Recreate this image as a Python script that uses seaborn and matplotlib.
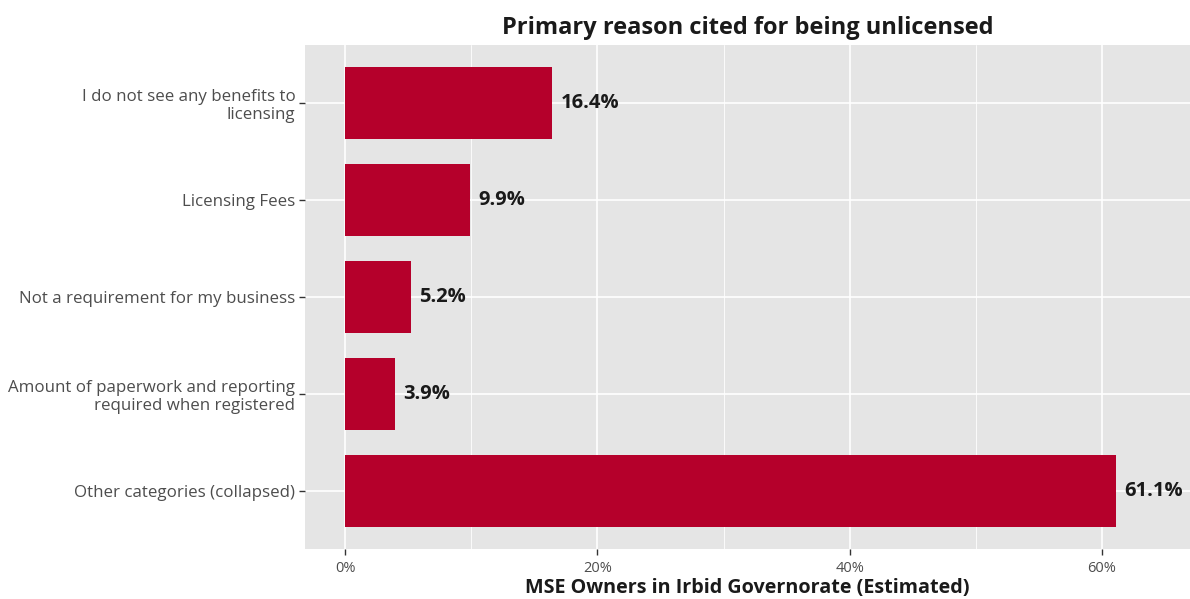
import seaborn as sns
import matplotlib.pyplot as plt
import pandas as pd
from matplotlib.ticker import FuncFormatter, MultipleLocator

# reasons and estimated share of MSE owners (%)
reasons = [
    "I do not see any benefits to\nlicensing",
    "Licensing Fees",
    "Not a requirement for my business",
    "Amount of paperwork and reporting\nrequired when registered",
    "Other categories (collapsed)",
]
shares = [16.4, 9.9, 5.2, 3.9, 61.1]
bar_labels = ["16.4%", "9.9%", "5.2%", "3.9%", "61.1%"]

df = pd.DataFrame({"reason": reasons, "share": shares})

sns.set_theme(style="darkgrid")
plt.rcParams["font.family"] = ["Open Sans", "DejaVu Sans"]

fig = plt.figure(figsize=(11.9, 5.99), dpi=100)
ax = fig.add_axes([0.2563, 0.0835, 0.7437, 0.8416])
ax.set_facecolor("#E5E5E5")

sns.barplot(data=df, x="share", y="reason", order=reasons, color="#B5002B",
            width=0.74, saturation=1, edgecolor="none", linewidth=0, ax=ax, zorder=3)

ax.bar_label(ax.containers[0], labels=bar_labels, padding=6,
             fontsize=14.5, fontweight="bold", color="#1a1a1a")

ax.set_xlim(-3.2, 67.0)
ax.set_ylim(4.6, -0.6)
ax.xaxis.set_major_locator(MultipleLocator(20))
ax.xaxis.set_minor_locator(MultipleLocator(10))
ax.xaxis.set_major_formatter(FuncFormatter(lambda v, p: f"{v:.0f}%"))
ax.grid(which="major", color="white", linewidth=1.2)
ax.grid(which="minor", axis="x", color="white", linewidth=0.6)
ax.set_axisbelow(True)
for s in ax.spines.values():
    s.set_visible(False)

ax.tick_params(axis="both", which="major", length=4, width=1, color="#333333",
               labelcolor="#4D4D4D", pad=3, bottom=True, left=True)
ax.tick_params(axis="y", labelsize=12.2)
ax.tick_params(axis="x", labelsize=10.5, pad=5)
ax.tick_params(axis="x", which="minor", length=0)

ax.set_ylabel("")
ax.set_xlabel("MSE Owners in Irbid Governorate (Estimated)", fontsize=14.2,
              fontweight="bold", color="#1a1a1a", labelpad=1)
ax.set_title("Primary reason cited for being unlicensed", fontsize=17,
             fontweight="bold", color="#1a1a1a", pad=8)

fig.savefig("out.png", dpi=100)
